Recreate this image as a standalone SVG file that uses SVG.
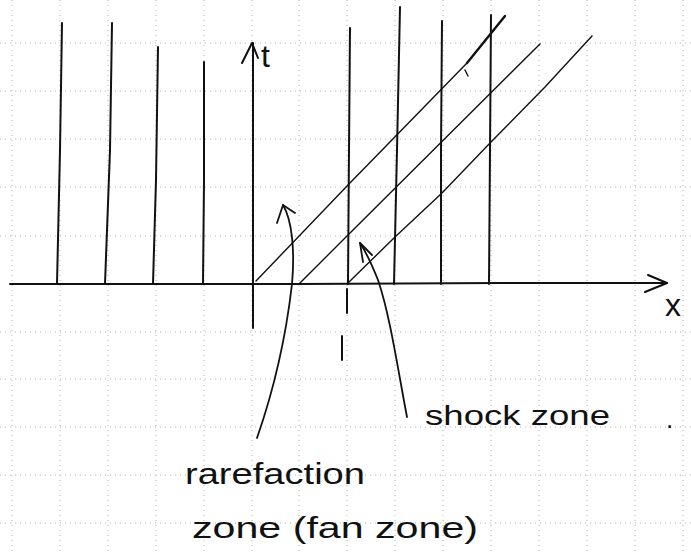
<svg xmlns="http://www.w3.org/2000/svg" width="691" height="553" viewBox="0 0 691 553">
<style>
.grid{stroke:#b0b0b0;stroke-width:1;stroke-dasharray:1 4;fill:none}
.ink{stroke:#111;fill:none;stroke-linecap:round;stroke-linejoin:round}
.v{stroke-width:2}
.d{stroke-width:1.4}
.lbl{font-family:"Liberation Sans","DejaVu Sans",sans-serif;fill:#111}
</style>
<rect width="691" height="553" fill="#fff"/>
<g id="grid" class="grid">
<path d="M12 0V553M60 0V553M108 0V553M156 0V553M204 0V553M252 0V553M299 0V553M347 0V553M395 0V553M443 0V553M491 0V553M539 0V553M587 0V553M635 0V553M683 0V553"/>
<path d="M0 43H691M0 91H691M0 139H691M0 187H691M0 236H691M0 332H691M0 379H691M0 427H691M0 475H691M0 523H691"/>
</g>
<g id="characteristics" class="ink">
<path class="v" d="M62 23L60 150L57 284"/>
<path class="v" d="M112 23L110 150L105 284"/>
<path class="v" d="M158 47L156 180L153 284"/>
<path class="v" d="M204 62L204 180L203 284"/>
<path class="v" d="M350 28L349 150L348 284"/>
<path class="v" d="M400 7L397 150L394 284"/>
<path class="v" d="M442 21L441 150L441 284"/>
<path class="v" d="M491 15L490 150L489 284"/>
<path class="d" d="M256 281L348 185L467 63"/>
<path stroke-width="2.4" d="M467 63L505 16"/>
<path class="d" d="M465 70L468 76"/>
<path class="d" d="M299 284L348 235L540 44"/>
<path class="d" d="M348 283L395 237L442 193L491 142L545 87L592 36"/>
<path class="v" d="M347 289L347 313M342 336L342 360"/>
</g>
<g id="axes" class="ink">
<path class="v" d="M10 284L300 284L500 283L667 283"/>
<path class="v" d="M648 275L667 283L645 292"/>
<path class="v" d="M253 328L253 43"/>
<path class="v" d="M242 63L252 43L258 58"/>
</g>
<g id="connectors" class="ink">
<path stroke-width="1.8" d="M257 438C272 395 285 345 292 284C295 250 292 220 283 205"/>
<path stroke-width="1.8" d="M277 223L283 205L295 213"/>
<path stroke-width="1.8" d="M407 417C398 370 390 315 378 280C372 265 366 252 360 243"/>
<path stroke-width="1.8" d="M363 262L360 243L372 255"/>
</g>
<g id="label-t"><text class="lbl" x="261" y="67" font-size="32">t</text></g>
<g id="label-x"><text class="lbl" x="665" y="316" font-size="32">x</text></g>
<g id="label-shock"><text class="lbl" x="425" y="425" font-size="28" textLength="185" lengthAdjust="spacingAndGlyphs">shock zone</text>
<text class="lbl" x="666" y="428" font-size="26">.</text></g>
<g id="label-rarefaction"><text class="lbl" x="185" y="484" font-size="30" textLength="180" lengthAdjust="spacingAndGlyphs">rarefaction</text>
<text class="lbl" x="192" y="538" font-size="30" textLength="286" lengthAdjust="spacingAndGlyphs">zone (fan zone)</text></g>
</svg>
